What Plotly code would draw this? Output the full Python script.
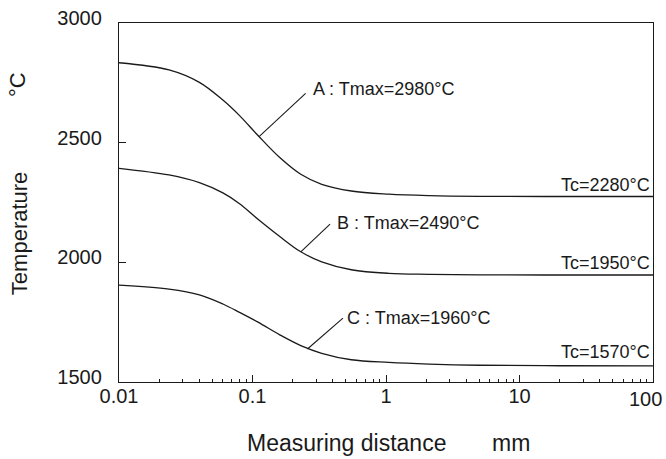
import numpy as np
import plotly.graph_objects as go

# measuring distance (mm) and temperatures (°C)
dist = [0.01, 0.0237, 0.04, 0.06, 0.08, 0.11, 0.16, 0.23, 0.33, 0.55, 1.05, 2.1, 5, 20, 100]
temp_a = [2834, 2804, 2752, 2678, 2613, 2530, 2438, 2368, 2326, 2298, 2285, 2279, 2276, 2275, 2275]
temp_b = [2393, 2365, 2333, 2290, 2245, 2180, 2108, 2044, 2002, 1969, 1954, 1950, 1948, 1947, 1947]
temp_c = [1905, 1888, 1864, 1826, 1791, 1750, 1697, 1652, 1620, 1593, 1582, 1575, 1570, 1568, 1567]

labels = ["A : Tmax=2980°C", "B : Tmax=2490°C", "C : Tmax=1960°C"]
tc_labels = ["Tc=2280°C", "Tc=1950°C", "Tc=1570°C"]
x_ticks = [0.01, 0.1, 1, 10, 100]
x_ticktext = ["0.01", "0.1", "1", "10", "100"]

# leader lines: point on curve -> label end
leader_x = [[0.112, 0.25], [0.23, 0.381], [0.258, 0.476]]
leader_y = [[2525, 2706], [2044, 2160], [1638, 1767]]
label_x = [0.276, 0.415, 0.493]
label_y = [2724, 2164, 1767]
tc_y = [2323, 1997, 1625]

ink = "#1a1a1a"
font = "Liberation Sans, Arial, sans-serif"

fig = go.Figure()
for t in [temp_a, temp_b, temp_c]:
    fig.add_trace(go.Scatter(x=dist, y=t, mode="lines", line=dict(color=ink, width=1.3, shape="spline", smoothing=1.0),
                             showlegend=False, hoverinfo="skip"))
for lx, ly in zip(leader_x, leader_y):
    fig.add_trace(go.Scatter(x=lx, y=ly, mode="lines", line=dict(color=ink, width=1.1),
                             showlegend=False, hoverinfo="skip"))

for txt, x, y in zip(labels, label_x, label_y):
    fig.add_annotation(x=np.log10(x), y=y, text=txt, showarrow=False, xanchor="left", yanchor="middle",
                       font=dict(size=18, color=ink, family=font))
for txt, y in zip(tc_labels, tc_y):
    fig.add_annotation(x=2, y=y, text=txt, showarrow=False, xanchor="right", yanchor="middle", xshift=-1,
                       font=dict(size=18, color=ink, family=font))

# last x tick label sits flush with the right edge (as in the original)
fig.add_annotation(x=np.log10(x_ticks[-1]), y=0, yref="paper", text=x_ticktext[-1], showarrow=False,
                   xanchor="right", yanchor="top", xshift=11, yshift=-4,
                   font=dict(size=20, color=ink, family=font))

# axis titles
title_font = dict(size=22, color=ink, family=font)
fig.add_annotation(xref="paper", yref="paper", x=-0.187, y=0.415, text="Temperature", textangle=-90,
                   xanchor="center", yanchor="middle", showarrow=False, font=title_font)
fig.add_annotation(xref="paper", yref="paper", x=-0.191, y=0.827, text="°C", textangle=-90,
                   xanchor="center", yanchor="middle", showarrow=False, font=title_font)
fig.add_annotation(xref="paper", yref="paper", x=0.426, y=-0.17, text="Measuring distance",
                   xanchor="center", yanchor="middle", showarrow=False, font=dict(size=23, color=ink, family=font))
fig.add_annotation(xref="paper", yref="paper", x=0.734, y=-0.17, text="mm",
                   xanchor="center", yanchor="middle", showarrow=False, font=dict(size=23, color=ink, family=font))

minor_vals = [m * 10.0 ** e for e in range(-2, 2) for m in range(2, 10)]

fig.update_xaxes(type="log", range=[-2, 2], tickvals=x_ticks, ticktext=x_ticktext[:-1] + [""],
                 ticks="inside", ticklen=7, tickcolor=ink, showline=True, linecolor=ink, linewidth=1.3, mirror=True,
                 showgrid=False, zeroline=False, automargin=False, tickfont=dict(size=20, color=ink, family=font),
                 ticklabelstandoff=-4,
                 minor=dict(tickvals=minor_vals, ticks="inside", ticklen=3, tickcolor=ink, showgrid=False))
fig.update_yaxes(range=[1500, 3000], tickvals=[1500, 2000, 2500, 3000], ticks="inside", ticklen=7, tickcolor=ink,
                 showline=True, linecolor=ink, linewidth=1.3, mirror=True, showgrid=False, zeroline=False,
                 automargin=False, tickfont=dict(size=20, color=ink, family=font),
                 ticklabelstandoff=12, ticklabelshift=-5)

fig.update_layout(width=666, height=459, margin=dict(l=119, r=13, t=23, b=77),
                  plot_bgcolor="white", paper_bgcolor="white")
fig.write_html("out.html", config={"displayModeBar": False},
               post_script="document.body.style.margin='0';")
